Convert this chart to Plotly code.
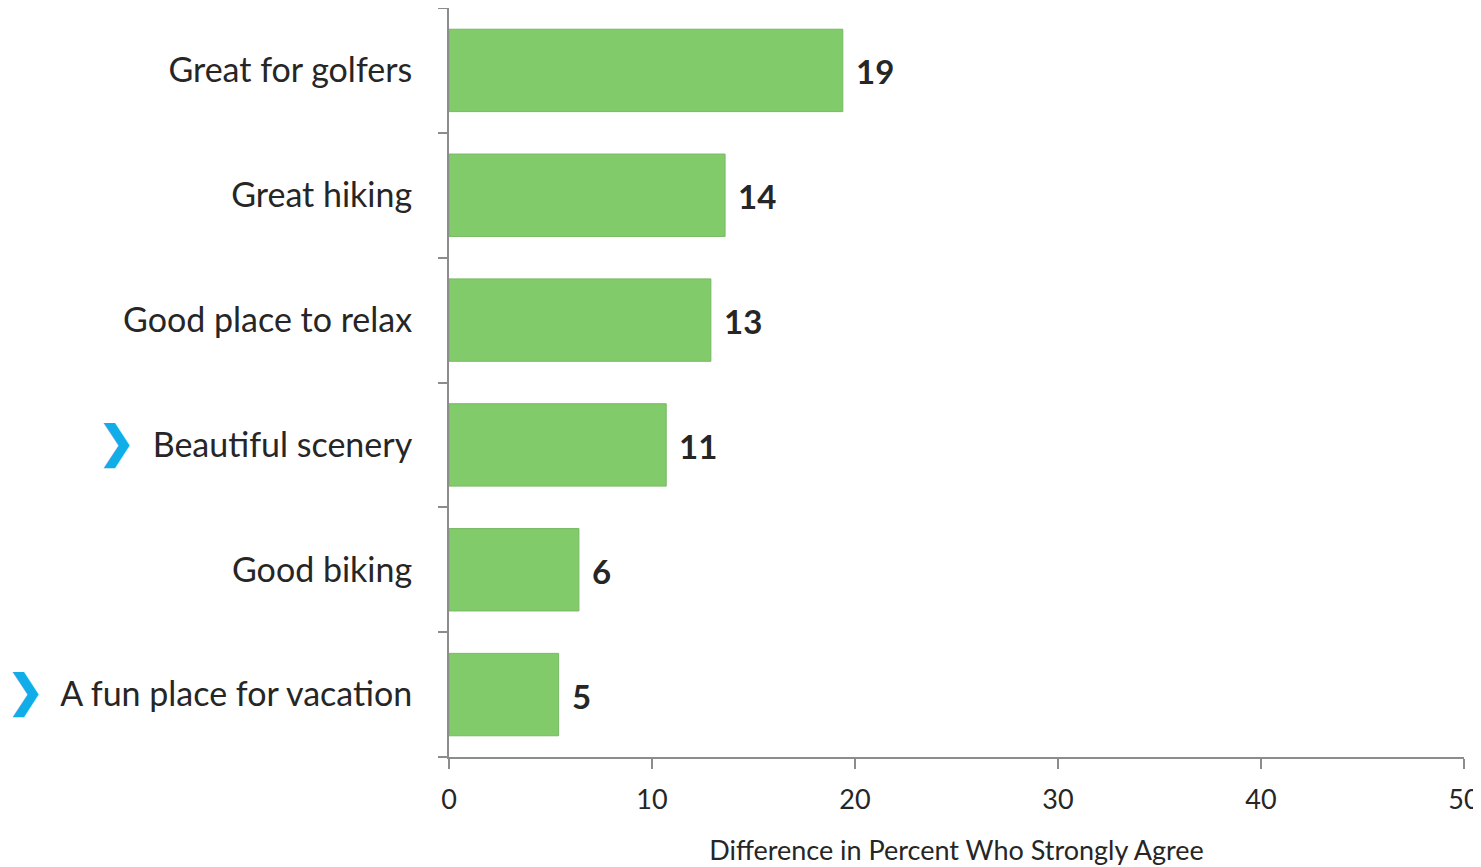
import plotly.graph_objects as go

categories = ["Great for golfers", "Great hiking", "Good place to relax",
              "Beautiful scenery", "Good biking", "A fun place for vacation"]
values = [19.4, 13.6, 12.9, 10.7, 6.4, 5.4]
value_labels = ["19", "14", "13", "11", "6", "5"]
highlighted = ["Beautiful scenery", "A fun place for vacation"]
x_ticks = [0, 10, 20, 30, 40, 50]

FONT = "Lato"
TEXT = "#262626"
AXIS = "#8c8c8c"
CHEV = "#10ADE8"

tick_text = []
for c in categories:
    if c in highlighted:
        tick_text.append(f"<span style='color:{CHEV};font-size:44px'><b>❯</b></span>  {c}")
    else:
        tick_text.append(c)

fig = go.Figure()
fig.add_trace(go.Bar(
    x=values, y=categories, orientation="h",
    marker=dict(color="#82CB6B", line=dict(color="#78b864", width=1)),
    width=0.66, hoverinfo="skip",
))

for v, c, t in zip(values, categories, value_labels):
    fig.add_annotation(x=v, y=c, text=f"<b>{t}</b>", showarrow=False,
                       xanchor="left", xshift=11, yshift=-1,
                       font=dict(family=FONT, size=33, color=TEXT))

# page body has an 8px default margin, so the figure is sized/margined to compensate
fig.update_layout(
    width=1473, height=859,
    margin=dict(l=441, r=17, t=0, b=110),
    plot_bgcolor="white", paper_bgcolor="white",
    showlegend=False,
    font=dict(family=FONT, color=TEXT),
    bargap=0.34,
)
fig.update_yaxes(
    automargin=False,
    categoryorder="array", categoryarray=categories,
    autorange="reversed",
    tickmode="array", tickvals=categories, ticktext=tick_text,
    tickson="boundaries", ticks="outside", ticklen=9, tickcolor=AXIS, tickwidth=2,
    showline=True, linecolor=AXIS, linewidth=2,
    showgrid=False, zeroline=False,
    tickfont=dict(family=FONT, size=34, color=TEXT),
    ticklabelstandoff=28,
)
fig.update_xaxes(
    automargin=False,
    range=[0, 50], tickmode="array", tickvals=x_ticks,
    ticks="outside", ticklen=10, tickcolor=AXIS, tickwidth=2,
    showline=True, linecolor=AXIS, linewidth=2,
    showgrid=False, zeroline=False,
    ticklabeloverflow="allow",
    tickfont=dict(family=FONT, size=27, color=TEXT),
    ticklabelstandoff=8,
    title=dict(text="Difference in Percent Who Strongly Agree",
               font=dict(family=FONT, size=27, color=TEXT), standoff=27),
)

fig.write_html(
    "out.html",
    post_script="document.documentElement.style.overflow='hidden';"
                "document.body.style.overflow='hidden';",
)
